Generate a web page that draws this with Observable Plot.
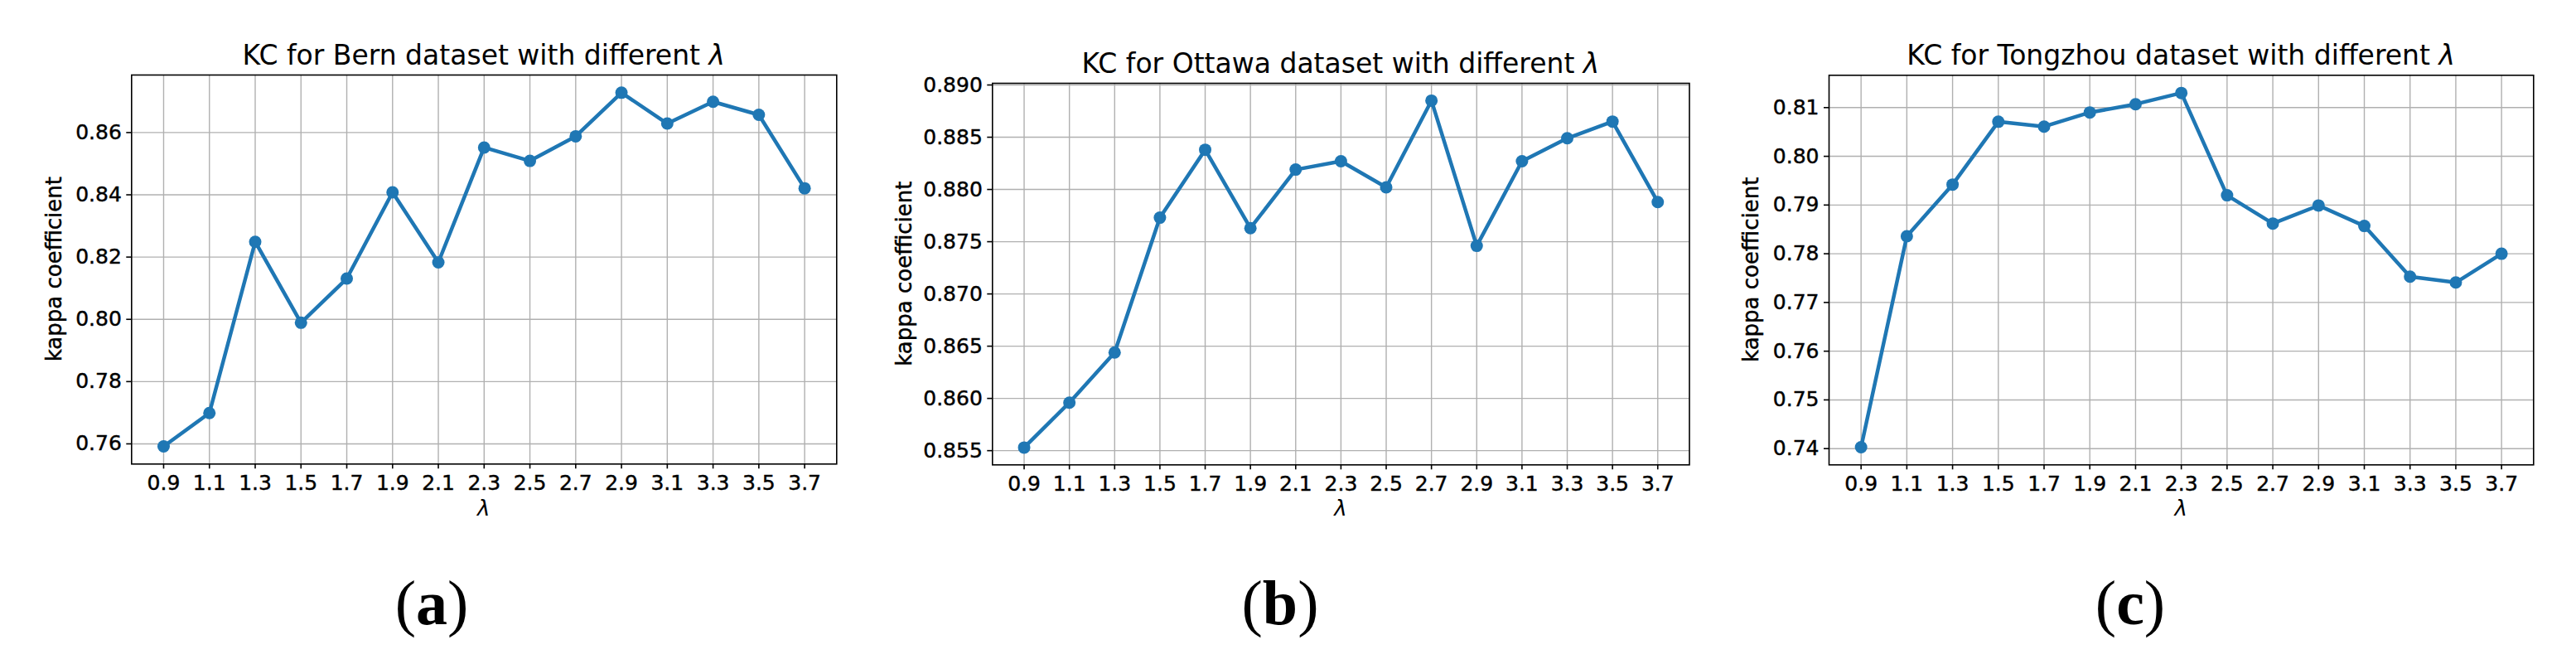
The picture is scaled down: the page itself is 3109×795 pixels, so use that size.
<!DOCTYPE html>
<html>
<head>
<meta charset="utf-8">
<script src="https://cdn.jsdelivr.net/npm/d3@7"></script>
<script src="https://cdn.jsdelivr.net/npm/@observablehq/plot@0.6"></script>
<style>
  html, body { margin: 0; padding: 0; background: #fff; }
  #root { position: relative; width: 3109px; height: 795px; overflow: hidden; background: #fff; }
  .panel { position: absolute; top: 0; }
  .panel g[aria-label="x-axis tick label"] text,
  .panel g[aria-label="y-axis tick label"] text,
  .panel .ylab { stroke: #000; stroke-width: 0.45px; }
</style>
</head>
<body>
<div id="root"></div>
<script>
// ---- data ----
const lambdas = [0.9, 1.1, 1.3, 1.5, 1.7, 1.9, 2.1, 2.3, 2.5, 2.7, 2.9, 3.1, 3.3, 3.5, 3.7];
const bernKC = [0.7592, 0.7699, 0.8249, 0.7989, 0.8131, 0.8408, 0.8183, 0.8552, 0.8509, 0.8588, 0.8728, 0.8629, 0.8699, 0.8657, 0.8421];
const ottawaKC = [0.8553, 0.8596, 0.8644, 0.8773, 0.8838, 0.8763, 0.8819, 0.8827, 0.8802, 0.8885, 0.8746, 0.8827, 0.8849, 0.8865, 0.8788];
const tongzhouKC = [0.7403, 0.7836, 0.7942, 0.8071, 0.8061, 0.8090, 0.8107, 0.8130, 0.7920, 0.7862, 0.7899, 0.7857, 0.7753, 0.7741, 0.7800];
const bernTicks = [0.76, 0.78, 0.80, 0.82, 0.84, 0.86];
const ottawaTicks = [0.855, 0.860, 0.865, 0.870, 0.875, 0.880, 0.885, 0.890];
const tongzhouTicks = [0.74, 0.75, 0.76, 0.77, 0.78, 0.79, 0.80, 0.81];
const datasetNames = ["Bern", "Ottawa", "Tongzhou"];
const captionLetters = ["a", "b", "c"];
const yLabel = "kappa coefficient";
const xLabel = "λ";

// ---- layout ----
const H = 795;
const panels = [
  { left: 0,    width: 1036, ml: 158.3, mr: 26.7, mt: 90,   mb: 235.7, values: bernKC,     ticks: bernTicks,     dec: 2, titleY: 78,  yLabX: 74,  capX: 521 },
  { left: 1036, width: 1036, ml: 161.3, mr: 33.5, mt: 100,  mb: 234.7, values: ottawaKC,   ticks: ottawaTicks,   dec: 3, titleY: 88,  yLabX: 64,  capX: 509 },
  { left: 2072, width: 1037, ml: 135,   mr: 51.7, mt: 90.3, mb: 234.7, values: tongzhouKC, ticks: tongzhouTicks, dec: 2, titleY: 78,  yLabX: 50,  capX: 499 }
];

const root = document.getElementById("root");
const xPad = (lambdas[lambdas.length - 1] - lambdas[0]) * 0.05;
const xDomain = [lambdas[0] - xPad, lambdas[lambdas.length - 1] + xPad];
const blue = "#1f77b4";
const gridColor = "#b0b0b0";

panels.forEach((p, i) => {
  const rows = lambdas.map((l, j) => ({ lambda: l, kc: p.values[j] }));
  const [lo, hi] = d3.extent(p.values);
  const yPad = (hi - lo) * 0.05;
  const yDomain = [lo - yPad, hi + yPad];
  const plot = Plot.plot({
    width: p.width,
    height: H,
    marginLeft: p.ml,
    marginRight: p.mr,
    marginTop: p.mt,
    marginBottom: p.mb,
    style: { background: "transparent", maxWidth: "none", fontFamily: "DejaVu Sans", fontSize: "25px", color: "#000", overflow: "visible" },
    x: { domain: xDomain, label: null },
    y: { domain: yDomain, label: null },
    marks: [
      Plot.gridX(lambdas, { stroke: gridColor, strokeOpacity: 1, strokeWidth: 1.4 }),
      Plot.gridY(p.ticks, { stroke: gridColor, strokeOpacity: 1, strokeWidth: 1.4 }),
      Plot.axisX(lambdas, { tickSize: 6, tickPadding: 7, tickFormat: d => d.toFixed(1), fontSize: 25, fontFamily: "DejaVu Sans", fill: "#000", stroke: "#000", strokeWidth: 1.6, label: null }),
      Plot.axisY(p.ticks, { tickSize: 6, tickPadding: 6, tickFormat: d => d.toFixed(p.dec), fontSize: 25, fontFamily: "DejaVu Sans", fill: "#000", stroke: "#000", strokeWidth: 1.6, label: null }),
      Plot.frame({ stroke: "#000", strokeWidth: 1.6 }),
      Plot.line(rows, { x: "lambda", y: "kc", stroke: blue, strokeWidth: 4.5 }),
      Plot.dot(rows, { x: "lambda", y: "kc", r: 7.5, fill: blue, stroke: "none" })
    ]
  });
  const svg = d3.select(plot);
  const cx = p.ml + (p.width - p.ml - p.mr) / 2;
  const cy = p.mt + (H - p.mt - p.mb) / 2;
  // title
  const t = svg.append("text")
    .attr("x", cx).attr("y", p.titleY)
    .attr("text-anchor", "middle")
    .style("font-family", "DejaVu Sans").style("font-size", "33px").attr("fill", "#000");
  t.append("tspan").text(`KC for ${datasetNames[i]} dataset with different `);
  t.append("tspan").style("font-style", "italic").text("λ");
  // y label
  svg.append("text")
    .attr("class", "ylab")
    .attr("transform", `translate(${p.yLabX},${cy}) rotate(-90)`)
    .attr("text-anchor", "middle")
    .style("font-family", "DejaVu Sans").style("font-size", "26px").attr("fill", "#000")
    .text(yLabel);
  // x label
  svg.append("text")
    .attr("x", cx).attr("y", 622)
    .attr("text-anchor", "middle")
    .style("font-family", "DejaVu Sans").style("font-size", "26px").style("font-style", "italic").attr("fill", "#000")
    .text(xLabel);
  // caption
  const c = svg.append("text")
    .attr("x", p.capX).attr("y", 753)
    .attr("text-anchor", "middle")
    .style("font-family", "Liberation Serif").style("font-size", "76px").attr("fill", "#000");
  c.append("tspan").text("(");
  c.append("tspan").style("font-weight", "bold").text(captionLetters[i]);
  c.append("tspan").text(")");

  const holder = document.createElement("div");
  holder.className = "panel";
  holder.style.left = p.left + "px";
  holder.style.width = p.width + "px";
  holder.appendChild(plot);
  root.appendChild(holder);
});
</script>
</body>
</html>
